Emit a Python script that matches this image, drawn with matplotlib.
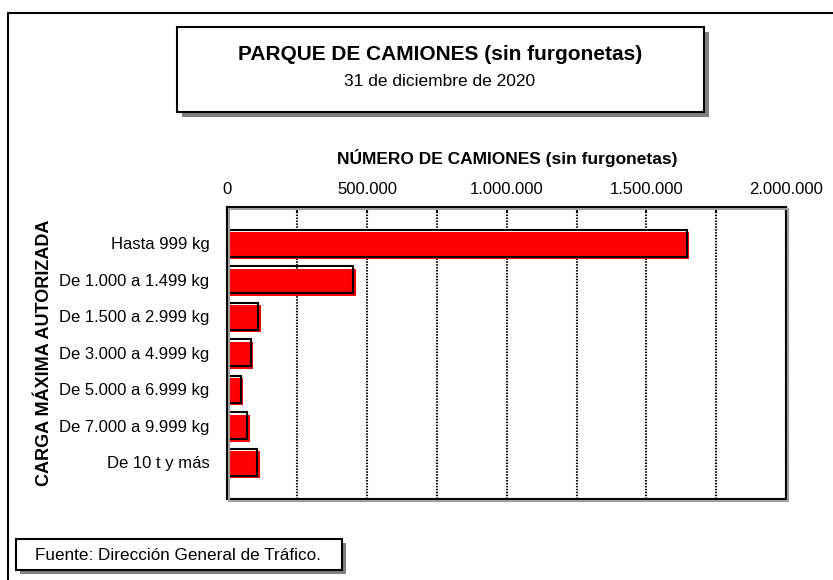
import matplotlib
matplotlib.use("Agg")
import matplotlib.pyplot as plt
from matplotlib.patches import Rectangle
from matplotlib.lines import Line2D
from matplotlib.ticker import MultipleLocator, FuncFormatter
import matplotlib.transforms as mtransforms

plt.rcParams['font.family'] = ['Liberation Sans', 'DejaVu Sans']

# datos
categorias = ["Hasta 999 kg", "De 1.000 a 1.499 kg", "De 1.500 a 2.999 kg",
              "De 3.000 a 4.999 kg", "De 5.000 a 6.999 kg", "De 7.000 a 9.999 kg",
              "De 10 t y más"]
camiones = [1645000, 450000, 111000, 84000, 48000, 70000, 106000]
ticks_x = [0, 500000, 1000000, 1500000, 2000000]

W, H = 833, 580
fig = plt.figure(figsize=(W / 100, H / 100), dpi=100)


def fx(px):
    return px / W


def fy(py):
    return 1 - py / H


def caja(x0, y0, x1, y1, sombra=5):
    # caja con sombra gris, coordenadas en pixeles
    fig.patches.append(Rectangle((fx(x0 + sombra), fy(y1 + sombra)), fx(x1 - x0), (y1 - y0) / H,
                                 transform=fig.transFigure, facecolor='#808080',
                                 edgecolor='none', zorder=1))
    fig.patches.append(Rectangle((fx(x0), fy(y1)), fx(x1 - x0), (y1 - y0) / H,
                                 transform=fig.transFigure, facecolor='white',
                                 edgecolor='black', lw=1.5, zorder=2))


# marco exterior (solo se ven izquierda y arriba)
fig.lines.append(Line2D([fx(8), fx(8), 1], [0, fy(12.5), fy(12.5)],
                        transform=fig.transFigure, color='black', lw=1.5))

# caja del titulo
caja(177, 27, 704, 112)
fig.text(fx(440), fy(54), "PARQUE DE CAMIONES (sin furgonetas)", ha='center', va='center',
         fontsize=15, fontweight='bold', zorder=3)
fig.text(fx(440), fy(81), "31 de diciembre de 2020", ha='center', va='center',
         fontsize=12.5, zorder=3)

# caja de la fuente
caja(16, 539, 342, 570, sombra=4)
fig.text(fx(35), fy(555), "Fuente: Dirección General de Tráfico.", ha='left', va='center',
         fontsize=12.3, zorder=3)

# ejes
ax_l, ax_t, ax_r, ax_b = 227.5, 206.7, 786, 499
ax = fig.add_axes([fx(ax_l), fy(ax_b), fx(ax_r - ax_l), (ax_b - ax_t) / H])

# sombra del marco del grafico
fig.patches.append(Rectangle((fx(ax_l + 2), fy(ax_b + 2)), fx(ax_r - ax_l), (ax_b - ax_t) / H,
                             transform=fig.transFigure, facecolor='none',
                             edgecolor='#a0a0a0', lw=1.5, zorder=0))

y = list(range(len(categorias)))
desplaz = mtransforms.offset_copy(ax.transData, fig=fig, x=2.5, y=-2.5, units='dots')
ax.barh(y, camiones, height=0.74, color='#ff0000', edgecolor='none',
        transform=desplaz, zorder=3)
ax.barh(y, camiones, height=0.74, fill=False, edgecolor='black', lw=1.5, zorder=4)

ax.set_xlim(0, 2000000)
ax.set_ylim(len(categorias), -1)
ax.set_yticks(y)
ax.set_yticklabels(categorias, fontsize=12)
ax.tick_params(axis='y', length=0, pad=13)

ax.xaxis.tick_top()
ax.set_xticks(ticks_x)
ax.xaxis.set_minor_locator(MultipleLocator(250000))
ax.xaxis.set_major_formatter(FuncFormatter(lambda v, p: f"{int(v):,}".replace(",", ".")))
ax.tick_params(axis='x', which='both', direction='in', length=4, width=1.5,
               labelsize=12, pad=7, top=True, bottom=False)
ax.grid(axis='x', which='both', color='black', linestyle=(0, (0.7, 0.7)), lw=1.5, zorder=1)
for s in ax.spines.values():
    s.set_linewidth(1.5)
    s.set_color('black')

fig.text(fx(507), fy(158), "NÚMERO DE CAMIONES (sin furgonetas)", ha='center', va='center',
         fontsize=12.5, fontweight='bold')
fig.text(fx(45), fy(353), "CARGA MÁXIMA AUTORIZADA", ha='center', va='center',
         rotation=90, fontsize=13, fontweight='bold')

fig.savefig("out.png", dpi=100)
